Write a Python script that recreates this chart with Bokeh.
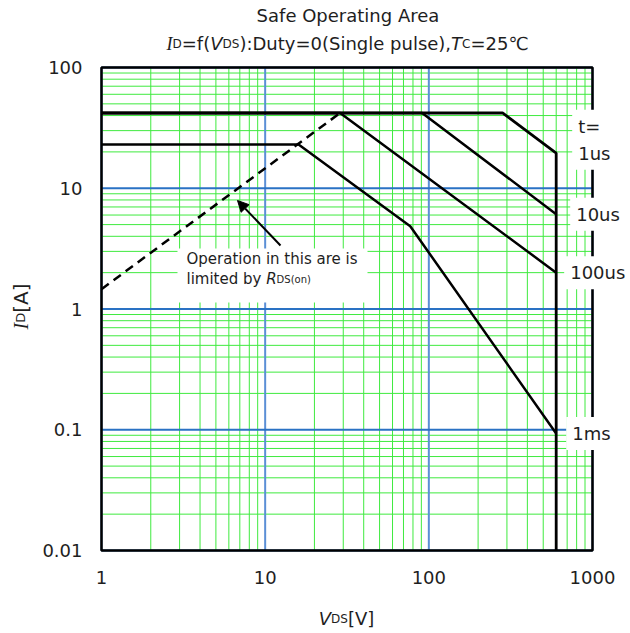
import math
from bokeh.plotting import figure
from bokeh.models import Label, Arrow, NormalHead, BoxAnnotation, Range1d
from bokeh.embed import file_html
from bokeh.resources import INLINE
from bokeh.core.properties import value

# ---------------- data ----------------
vds_1us = [1, 282, 600, 600]
id_1us = [42, 42, 19.5, 0.01]
vds_10us = [1, 91, 600]
id_10us = [42, 42, 6.1]
vds_100us = [1, 28.7, 600]
id_100us = [42, 42, 2.0]
vds_1ms = [1, 16, 77, 600]
id_1ms = [23, 23, 4.85, 0.093]
vds_rds = [1, 28.7]
id_rds = [1.46, 42]

pulse_labels = ["1us", "10us", "100us", "1ms"]
pulse_label_v = 600
pulse_label_i = [19.5, 6.1, 2.0, 0.093]

x_major = [1, 10, 100, 1000]
x_tick_labels = ["1", "10", "100", "1000"]
y_major = [0.01, 0.1, 1, 10, 100]
y_tick_labels = ["0.01", "0.1", "1", "10", "100"]
minor_mult = [2, 3, 4, 5, 6, 7, 8, 9]
x_minor = [m * d for d in [1, 10, 100] for m in minor_mult]
y_minor = [m * d for d in [0.01, 0.1, 1, 10] for m in minor_mult]

# ---------------- layout ----------------
CW, CH = 630, 633                 # canvas
FL, FR, FT, FB = 101, 592, 67, 550  # plot box in canvas pixels
FONT = "DejaVu Sans"
TXT = "#1e1e1e"

lx0, lx1 = math.log10(x_major[0]), math.log10(x_major[-1])
ly0, ly1 = math.log10(y_major[0]), math.log10(y_major[-1])
ppx = (FR - FL) / (lx1 - lx0)
ppy = (FB - FT) / (ly1 - ly0)
x_range = Range1d(10 ** (lx0 - FL / ppx), 10 ** (lx1 + (CW - FR) / ppx))
y_range = Range1d(10 ** (ly0 - (CH - FB) / ppy), 10 ** (ly1 + FT / ppy))

# approximate DejaVu Sans advance widths (em)
W = {' ': 0.318, '(': 0.390, ')': 0.390, ',': 0.318, '.': 0.318, ':': 0.337,
     '=': 0.838, '[': 0.390, ']': 0.390, '℃': 1.0,
     'A': 0.684, 'C': 0.698, 'D': 0.770, 'I': 0.295, 'R': 0.695, 'S': 0.635,
     'T': 0.611, 'V': 0.684,
     'a': 0.613, 'b': 0.635, 'd': 0.635, 'e': 0.615, 'f': 0.352, 'g': 0.635,
     'h': 0.634, 'i': 0.278, 'l': 0.278, 'm': 0.974, 'n': 0.634, 'o': 0.612,
     'p': 0.635, 'r': 0.411, 's': 0.521, 't': 0.392, 'u': 0.634, 'y': 0.592}
for c in "0123456789":
    W[c] = 0.636


def tw(text, size, font):
    if font == "Liberation Serif":
        return 0.333 * size * len(text)
    return sum(W.get(c, 0.6) for c in text) * size


p = figure(x_axis_type="log", y_axis_type="log", x_range=x_range, y_range=y_range,
           frame_width=CW, frame_height=CH, min_border=0,
           x_axis_location=None, y_axis_location=None,
           output_backend="svg", toolbar_location=None,
           background_fill_color="white", border_fill_color="white")
p.outline_line_color = None
p.xgrid.visible = False
p.ygrid.visible = False

GREEN = "#3fea3f"
# minor grid
p.segment(x0=x_minor, x1=x_minor, y0=[y_major[0]] * len(x_minor), y1=[y_major[-1]] * len(x_minor),
          line_color=GREEN, line_width=1)
p.segment(x0=[x_major[0]] * len(y_minor), x1=[x_major[-1]] * len(y_minor), y0=y_minor, y1=y_minor,
          line_color=GREEN, line_width=1)
# major grid
p.segment(x0=x_major, x1=x_major, y0=[y_major[0]] * len(x_major), y1=[y_major[-1]] * len(x_major),
          line_color="#5b8fd6", line_width=2)
p.segment(x0=[x_major[0]] * len(y_major), x1=[x_major[-1]] * len(y_major), y0=y_major, y1=y_major,
          line_color="#2a72c4", line_width=2)
# plot box
p.quad(left=[x_major[0]], right=[x_major[-1]], bottom=[y_major[0]], top=[y_major[-1]],
       fill_color=None, line_color="black", line_width=2.5)

# tick labels
p.text(x=[x_major[0]] * len(y_major), y=y_major, text=y_tick_labels, x_offset=-19,
       text_align="right", text_baseline="middle", text_font=value(FONT),
       text_font_size=value("18px"), text_color=TXT)
p.text(x=x_major, y=[y_major[0]] * len(x_major), text=x_tick_labels, y_offset=27,
       text_align="center", text_baseline="middle", text_font=value(FONT),
       text_font_size=value("18px"), text_color=TXT)

# curves
p.line(vds_1us, id_1us, line_color="black", line_width=2.8)
p.line(vds_10us, id_10us, line_color="black", line_width=2.5)
p.line(vds_100us, id_100us, line_color="black", line_width=2.5)
p.line(vds_1ms, id_1ms, line_color="black", line_width=2.5)
p.line(vds_rds, id_rds, line_color="black", line_width=2.5, line_dash="9 6")

# pulse labels
p.add_layout(Label(x=pulse_label_v, y=pulse_label_i[0], x_offset=16, y_offset=27,
                   text="t=", text_font=FONT, text_font_size="18px", text_color=TXT,
                   text_baseline="middle", background_fill_color="white", padding=6))
for lab, yv, dx in zip(pulse_labels, pulse_label_i, [16, 14, 8, 10]):
    p.add_layout(Label(x=pulse_label_v, y=yv, x_offset=dx, text=lab, text_font=FONT,
                       text_font_size="18px", text_color=TXT, text_baseline="middle",
                       background_fill_color="white", padding=6))

# annotation box + text
p.add_layout(BoxAnnotation(left=177, right=367, bottom=CH - 302, top=CH - 248,
                           left_units="screen", right_units="screen",
                           bottom_units="screen", top_units="screen",
                           fill_color="white", fill_alpha=1, line_color=None))


def hpieces(segs, x0, yb, align="left"):
    total = sum(tw(t, s, f) for t, s, f, st in segs)
    x = x0 - total / 2 if align == "center" else x0
    for t, s, f, st in segs:
        p.add_layout(Label(x=x, y=CH - yb, x_units="screen", y_units="screen", text=t,
                           text_font=f, text_font_size=f"{s}px", text_font_style=st,
                           text_color=TXT, text_align="left", text_baseline="alphabetic"))
        x += tw(t, s, f)


def vpieces(segs, xb, yc):
    total = sum(tw(t, s, f) for t, s, f, st in segs)
    y = (CH - yc) - total / 2
    for t, s, f, st in segs:
        p.add_layout(Label(x=xb, y=y, x_units="screen", y_units="screen", text=t,
                           text_font=f, text_font_size=f"{s}px", text_font_style=st,
                           text_color=TXT, text_align="left", text_baseline="alphabetic",
                           angle=math.pi / 2))
        y += tw(t, s, f)


hpieces([("Operation in this are is", 15, FONT, "normal")], 186, 258.5)
hpieces([("limited by ", 15, FONT, "normal"), ("R", 15, FONT, "italic"),
         ("DS(on)", 10, FONT, "normal")], 186, 278.5)

p.add_layout(Arrow(x_start=280, y_start=CH - 245, x_end=237, y_end=CH - 200,
                   start_units="screen", end_units="screen", line_width=2, line_color="black",
                   end=NormalHead(size=11, fill_color="black", line_color="black")))

# title & subtitle
hpieces([("Safe Operating Area", 18, FONT, "normal")], 346, 15, align="center")
hpieces([("I", 18, "Liberation Serif", "italic"), ("D", 12, FONT, "normal"),
         ("=f(", 18, FONT, "normal"), ("V", 18, FONT, "italic"), ("DS", 12, FONT, "normal"),
         ("):Duty=0(Single pulse),", 18, FONT, "normal"), ("T", 18, FONT, "italic"),
         ("C", 12, FONT, "normal"), ("=25℃", 18, FONT, "normal")], 346, 43, align="center")

# axis titles
hpieces([("V", 18, FONT, "italic"), ("DS", 12, FONT, "normal"), ("[V]", 18, FONT, "normal")],
        346, 618, align="center")
vpieces([("I", 20, "Liberation Serif", "italic"), ("D", 13, FONT, "normal"),
         ("[A]", 20, FONT, "normal")], 20, 306)

open("out.html", "w").write(file_html(p, INLINE))
